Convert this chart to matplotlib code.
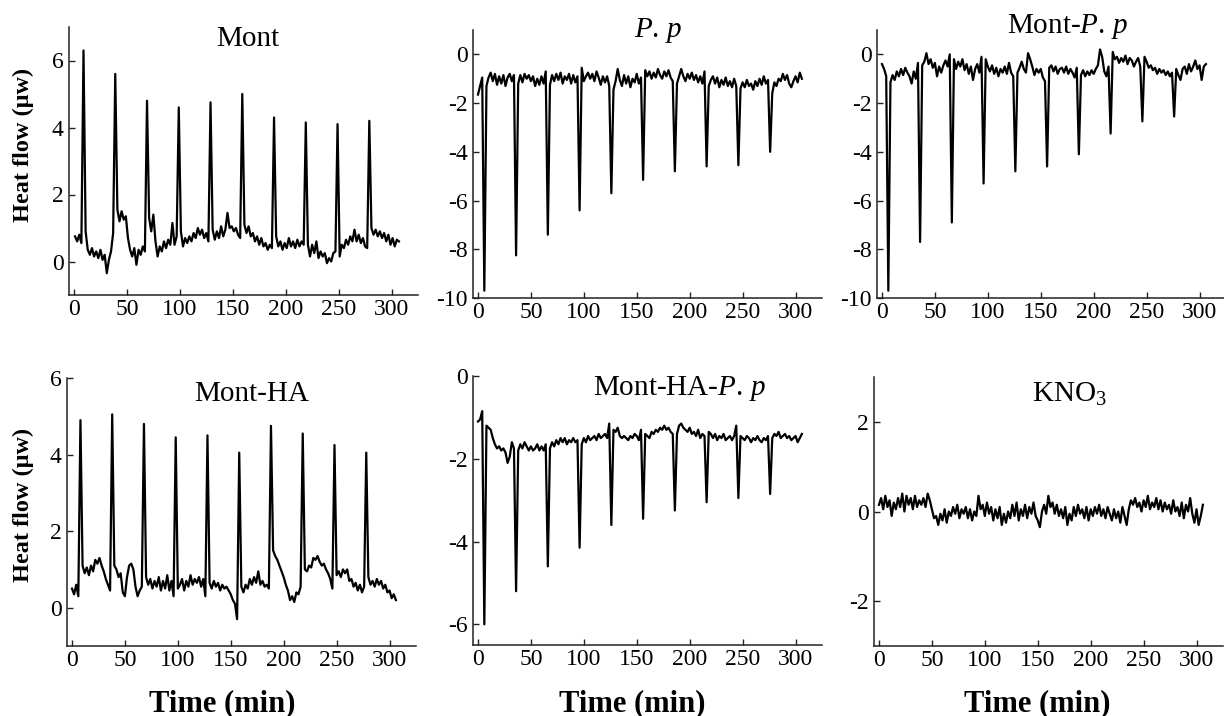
import numpy as np
import matplotlib
matplotlib.use("Agg")
import matplotlib.pyplot as plt

# sampling: one reading every 2 min
mont_t = np.arange(1, 308, 2)
even_t = np.arange(0, 307, 2)

mont = [
    0.75, 0.6, 0.8, 0.55, 6.3, 0.9, 0.35, 0.2, 0.4, 0.15, 0.3, 0.1, 0.35, 0.05, 0.2,
    -0.35, 0.05, 0.3, 0.85, 5.6, 1.55, 1.2, 1.5, 1.25, 1.35, 0.7, 0.35, 0.15, 0.4, -0.1,
    0.35, 0.2, 0.45, 0.3, 4.8, 1.3, 0.9, 1.4, 0.6, 0.15, 0.45, 0.3, 0.6, 0.4, 0.65,
    0.5, 1.15, 0.5, 0.75, 4.6, 0.9, 0.45, 0.7, 0.55, 0.75, 0.6, 0.85, 0.7, 1.0, 0.8,
    0.95, 0.7, 0.85, 0.6, 4.75, 0.95, 0.65, 0.9, 0.7, 1.05, 0.75, 0.95, 1.45, 1.0, 1.05,
    0.9, 1.0, 0.8, 0.7, 5.0, 1.1, 0.85, 1.05, 0.75, 0.85, 0.6, 0.75, 0.5, 0.7, 0.45,
    0.55, 0.35, 0.5, 0.4, 4.3, 0.75, 0.45, 0.6, 0.35, 0.55, 0.4, 0.7, 0.45, 0.6, 0.4,
    0.65, 0.45, 0.6, 0.5, 4.15, 0.5, 0.15, 0.5, 0.25, 0.6, 0.1, 0.3, 0.15, 0.25, -0.05,
    0.1, 0.0, 0.25, 0.3, 4.1, 0.15, 0.5, 0.4, 0.65, 0.5, 0.75, 0.6, 0.95, 0.6, 0.8,
    0.55, 0.7, 0.45, 0.4, 4.2, 1.0, 0.8, 0.95, 0.75, 0.9, 0.7, 0.85, 0.6, 0.8, 0.5,
    0.7, 0.45, 0.65, 0.6,
]

pp = [
    -1.65, -1.3, -0.95, -9.7, -1.3, -0.95, -0.75, -1.1, -0.8, -1.25, -0.9, -1.2, -0.85, -1.3, -0.95,
    -0.8, -1.1, -0.85, -8.25, -1.2, -0.85, -1.15, -0.8, -1.0, -0.85, -1.1, -0.9, -1.3, -1.0, -1.25,
    -0.9, -1.2, -0.7, -7.4, -1.25, -0.85, -1.1, -0.8, -1.05, -0.75, -1.2, -0.9, -1.05, -0.8, -1.2,
    -0.85, -1.15, -0.9, -6.4, -0.55, -1.1, -0.9, -0.75, -1.0, -0.8, -1.1, -0.7, -0.95, -1.25, -0.9,
    -1.15, -0.9, -1.3, -5.7, -1.45, -1.1, -0.6, -1.05, -1.3, -0.85, -1.2, -0.9, -1.35, -1.0, -1.15,
    -0.8, -1.2, -0.95, -5.15, -0.65, -0.9, -0.7, -1.0, -0.75, -0.95, -0.6, -0.85, -1.0, -0.7, -0.9,
    -0.65, -0.95, -1.1, -4.8, -1.2, -0.9, -0.6, -0.9, -1.1, -0.8, -1.0, -0.75, -1.05, -0.85, -1.15,
    -0.9, -1.2, -0.7, -4.6, -1.3, -1.05, -0.9, -1.2, -0.95, -1.35, -1.05, -1.25, -0.95, -1.3, -1.1,
    -1.35, -1.0, -1.3, -4.55, -1.4, -1.15, -1.35, -1.05, -1.3, -1.2, -1.45, -1.1, -1.3, -1.0, -1.25,
    -0.9, -1.2, -1.05, -4.0, -1.6, -1.15, -1.3, -1.0, -1.1, -0.8, -1.05, -0.85, -1.2, -1.35, -1.1,
    -0.9, -1.15, -0.75, -1.0,
]

mont_pp = [
    -0.4, -0.6, -0.9, -9.7, -1.15, -0.85, -1.05, -0.7, -0.9, -0.6, -0.85, -0.55, -0.75, -0.9, -1.2,
    -0.7, -1.0, -0.35, -7.7, -0.45, -0.3, 0.05, -0.4, -0.2, -0.55, -0.35, -0.9, -0.5, -0.75, -0.45,
    -0.25, -0.5, 0.0, -6.9, -0.2, -0.6, -0.3, -0.5, -0.2, -0.65, -0.4, -0.8, -0.5, -1.05, -0.6,
    -0.4, -0.75, -0.1, -5.3, -0.2, -0.5, -0.7, -0.45, -0.8, -0.55, -0.9, -0.6, -0.75, -0.5, -0.8,
    -0.35, -0.75, -0.9, -4.8, -0.75, -0.55, -0.3, -0.6, -0.75, 0.05, -0.2, -0.5, -0.85, -0.6, -0.75,
    -0.6, -0.95, -1.1, -4.6, -0.55, -0.45, -0.7, -0.5, -0.8, -0.6, -0.55, -0.75, -0.5, -0.8, -0.6,
    -0.75, -0.95, -0.55, -4.1, -0.85, -0.65, -0.9, -0.7, -0.85, -0.65, -0.8, -0.6, -0.45, 0.2, -0.1,
    -0.7, -0.9, -0.5, -3.25, 0.1, -0.2, -0.1, -0.35, -0.15, -0.3, -0.05, -0.4, -0.15, -0.25, -0.5,
    -0.3, -0.15, -0.5, -2.75, -0.1, -0.3, -0.55, -0.45, -0.65, -0.55, -0.8, -0.6, -0.75, -0.65, -0.85,
    -0.7, -0.9, -0.75, -2.55, -0.6, -0.85, -1.05, -0.6, -0.5, -0.8, -0.4, -0.7, -0.5, -0.25, -0.6,
    -0.45, -1.05, -0.5, -0.4,
]

mont_ha = [
    0.5, 0.35, 0.6, 0.3, 4.9, 1.1, 0.9, 1.05, 0.85, 1.1, 0.95, 1.25, 1.15, 1.3, 1.1,
    0.95, 0.75, 0.6, 0.45, 5.05, 1.1, 1.0, 0.8, 0.9, 0.4, 0.3, 0.8, 1.1, 1.15, 1.0,
    0.55, 0.3, 0.45, 0.55, 4.8, 0.8, 0.6, 0.75, 0.5, 0.7, 0.55, 0.8, 0.45, 0.7, 0.5,
    0.85, 0.45, 0.7, 0.3, 4.45, 0.5, 0.6, 0.75, 0.45, 0.7, 0.55, 0.85, 0.6, 0.75, 0.65,
    0.8, 0.55, 0.75, 0.3, 4.5, 0.65, 0.5, 0.7, 0.55, 0.65, 0.45, 0.6, 0.5, 0.55, 0.45,
    0.35, 0.2, 0.1, -0.3, 4.05, 0.55, 0.4, 0.6, 0.5, 0.75, 0.6, 0.8, 0.65, 0.95, 0.6,
    0.7, 0.55, 0.6, 0.5, 4.75, 1.5, 1.35, 1.25, 1.1, 0.95, 0.8, 0.6, 0.45, 0.2, 0.3,
    0.15, 0.4, 0.35, 0.55, 4.55, 1.0, 0.95, 1.1, 1.05, 1.3, 1.25, 1.35, 1.2, 1.1, 1.15,
    1.0, 0.9, 0.75, 0.5, 4.25, 0.85, 0.95, 0.8, 1.0, 0.9, 1.0, 0.7, 0.75, 0.55, 0.65,
    0.45, 0.6, 0.4, 0.55, 4.05, 0.8, 0.6, 0.7, 0.55, 0.75, 0.6, 0.7, 0.5, 0.6, 0.4,
    0.45, 0.25, 0.35, 0.2,
]

mont_ha_pp = [
    -1.1, -1.05, -0.85, -6.0, -1.2, -1.25, -1.3, -1.5, -1.65, -1.75, -1.7, -1.8, -1.75, -1.85, -2.1,
    -1.95, -1.6, -1.75, -5.2, -1.8, -1.65, -1.75, -1.6, -1.7, -1.8, -1.7, -1.8, -1.75, -1.65, -1.8,
    -1.7, -1.8, -1.65, -4.6, -1.75, -1.6, -1.7, -1.55, -1.65, -1.5, -1.6, -1.5, -1.65, -1.55, -1.6,
    -1.5, -1.6, -1.55, -4.15, -1.65, -1.5, -1.6, -1.45, -1.55, -1.5, -1.45, -1.55, -1.4, -1.5, -1.45,
    -1.4, -1.5, -1.15, -3.6, -1.3, -1.35, -1.25, -1.45, -1.5, -1.45, -1.5, -1.55, -1.45, -1.5, -1.4,
    -1.45, -1.55, -1.3, -3.45, -1.4, -1.45, -1.5, -1.35, -1.4, -1.3, -1.35, -1.25, -1.3, -1.2, -1.3,
    -1.25, -1.35, -1.4, -3.25, -1.4, -1.2, -1.15, -1.25, -1.3, -1.35, -1.25, -1.4, -1.35, -1.45, -1.3,
    -1.5, -1.4, -1.45, -3.05, -1.35, -1.4, -1.5, -1.4, -1.55, -1.45, -1.5, -1.4, -1.55, -1.5, -1.45,
    -1.55, -1.45, -1.2, -2.95, -1.45, -1.5, -1.55, -1.45, -1.5, -1.6, -1.5, -1.55, -1.45, -1.55, -1.6,
    -1.5, -1.55, -1.45, -2.85, -1.5, -1.4, -1.45, -1.35, -1.5, -1.45, -1.4, -1.5, -1.45, -1.55, -1.5,
    -1.45, -1.6, -1.5, -1.4,
]

kno3 = [
    0.15, 0.3, 0.05, 0.35, 0.1, 0.25, -0.1, 0.2, 0.05, 0.3, 0.1, 0.4, 0.0, 0.35, 0.15,
    0.3, 0.05, 0.35, 0.1, 0.25, 0.15, 0.3, 0.1, 0.4, 0.25, 0.05, -0.15, -0.1, -0.3, -0.05,
    -0.2, 0.05, -0.25, 0.0, -0.1, 0.1, -0.05, 0.15, -0.15, 0.05, -0.05, 0.1, -0.15, 0.05, -0.2,
    0.0, -0.1, 0.35, 0.05, 0.15, -0.1, 0.2, -0.05, 0.1, -0.2, 0.05, -0.15, 0.1, -0.3, -0.05,
    -0.25, 0.0, -0.15, 0.15, -0.1, 0.2, -0.2, 0.05, -0.1, 0.15, -0.15, 0.1, -0.05, 0.2, -0.1,
    -0.2, -0.35, 0.0, 0.15, -0.05, 0.35, 0.1, 0.2, -0.05, 0.15, -0.1, 0.05, -0.15, 0.1, -0.3,
    -0.05, -0.2, 0.1, -0.1, 0.15, -0.05, 0.05, -0.15, 0.1, -0.2, 0.05, -0.1, 0.1, -0.05, 0.15,
    -0.1, 0.05, -0.15, 0.1, -0.05, -0.2, 0.05, -0.15, 0.0, -0.25, 0.1, -0.1, -0.3, 0.05, 0.25,
    0.15, 0.3, 0.1, 0.2, 0.0, 0.25, 0.1, 0.35, 0.05, 0.2, 0.1, 0.3, 0.05, 0.25, 0.0,
    0.2, 0.05, 0.15, -0.05, 0.25, 0.0, 0.1, -0.1, 0.2, -0.15, 0.15, 0.0, 0.3, -0.05, -0.25,
    0.05, -0.3, -0.1, 0.15,
]

titles = ["Mont", r"$\mathit{P.\,p}$", r"Mont-$\mathit{P.\,p}$",
          "Mont-HA", r"Mont-HA-$\mathit{P.\,p}$", r"KNO$_3$"]
ylims = [(-1, 7), (-10, 1), (-10, 1), (-1, 6), (-6.5, 0), (-3, 3)]
yticks = [[0, 2, 4, 6], [0, -2, -4, -6, -8, -10], [0, -2, -4, -6, -8, -10],
          [0, 2, 4, 6], [0, -2, -4, -6], [-2, 0, 2]]
xticks = [0, 50, 100, 150, 200, 250, 300]

plt.rcParams['font.family'] = ['Liberation Serif', 'DejaVu Serif']
plt.rcParams['mathtext.fontset'] = 'custom'
plt.rcParams['mathtext.rm'] = 'Liberation Serif'
plt.rcParams['mathtext.it'] = 'Liberation Serif:italic'
plt.rcParams['axes.unicode_minus'] = False

W, H = 1224, 716
fig = plt.figure(figsize=(W / 100, H / 100), dpi=100)

# axes boxes in pixels: left, top, right, bottom
boxes = [(69, 27, 418, 295), (473, 30, 822, 298), (877, 30, 1226, 298),
         (67, 378, 416, 646), (473, 376, 822, 645), (874, 377, 1223, 646)]
title_pos = [(0.513, 0.929), (0.53, 0.975), (0.547, 0.989),
             (0.53, 0.915), (0.593, 0.929), (0.56, 0.908)]
series = [(mont_t, mont), (even_t, pp), (even_t, mont_pp),
          (even_t, mont_ha), (even_t, mont_ha_pp), (even_t, kno3)]

for i, (l, t, r, b) in enumerate(boxes):
    ax = fig.add_axes([l / W, 1 - b / H, (r - l) / W, (b - t) / H])
    x, y = series[i]
    ax.plot(x, y, color='black', lw=1.6)
    ax.set_xlim(-4.7, 325)
    ax.set_ylim(*ylims[i])
    ax.set_xticks(xticks)
    ax.set_yticks(yticks[i])
    for s in ['top', 'right']:
        ax.spines[s].set_visible(False)
    for s in ['left', 'bottom']:
        ax.spines[s].set_color('#222222')
        ax.spines[s].set_linewidth(1.1)
    ax.tick_params(direction='in', length=4, width=1, colors='#222222',
                   labelsize=17, labelcolor='black')
    ax.tick_params(axis='x', pad=3)
    ax.tick_params(axis='y', pad=4)
    tx, ty = title_pos[i]
    ax.text(tx, ty, titles[i], transform=ax.transAxes, ha='center',
            va='baseline', fontsize=21)

# y labels
for cy in [145, 505]:
    fig.text(23 / W, 1 - cy / H, "Heat flow (\u03bcw)", rotation=90, ha='center',
             va='center', fontsize=17.5, fontweight='bold')

# x labels
for cx in [222, 632, 1037]:
    fig.text(cx / W, 1 - 711 / H, "Time (min)", ha='center', va='baseline',
             fontsize=22, fontweight='bold')

fig.savefig("out.png", dpi=100)
